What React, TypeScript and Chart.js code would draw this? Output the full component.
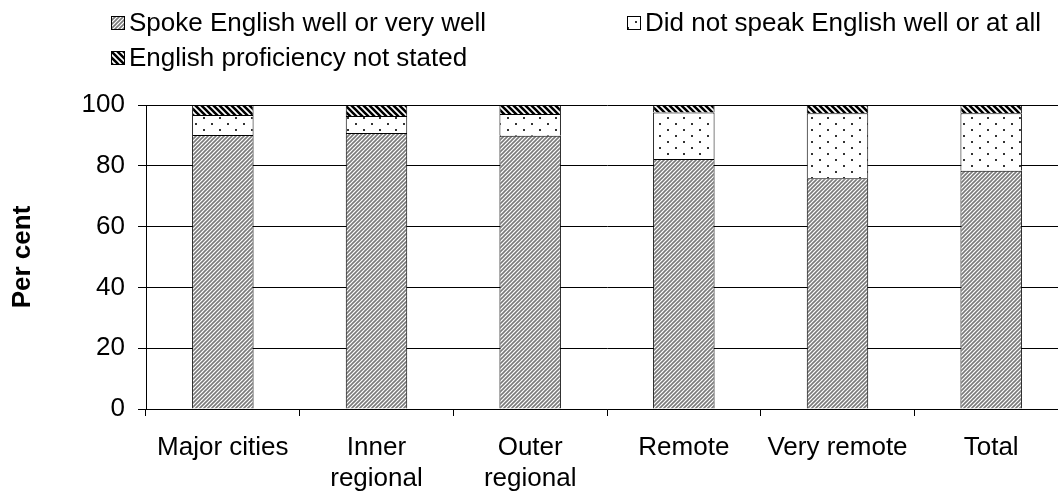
import React, { useEffect, useRef } from "react";
import { Chart, registerables } from "chart.js";

Chart.register(...registerables);

const categories: string[][] = [
  ["Major cities"],
  ["Inner", "regional"],
  ["Outer", "regional"],
  ["Remote"],
  ["Very remote"],
  ["Total"],
];
const seriesNames = [
  "Spoke English well or very well",
  "Did not speak English well or at all",
  "English proficiency not stated",
];
const spokeWell = [90.1, 90.8, 89.9, 82.2, 75.9, 78.4];
const notWell = [6.6, 5.6, 7.1, 15.3, 21.4, 18.9];
const notStated = [3.3, 3.6, 3.0, 2.5, 2.7, 2.7];
const yTicks = [0, 20, 40, 60, 80, 100];

const FONT = "'Liberation Sans', Arial, sans-serif";
const FS = 26;

function stripePattern(size: number, color: string, width: number, dir: "f" | "b") {
  const c = document.createElement("canvas");
  c.width = size;
  c.height = size;
  const g = c.getContext("2d")!;
  g.fillStyle = "#fff";
  g.fillRect(0, 0, size, size);
  g.strokeStyle = color;
  g.lineWidth = width;
  g.beginPath();
  if (dir === "f") {
    g.moveTo(0, size); g.lineTo(size, 0);
    g.moveTo(-size, size); g.lineTo(size, -size);
    g.moveTo(0, 2 * size); g.lineTo(2 * size, 0);
  } else {
    g.moveTo(0, 0); g.lineTo(size, size);
    g.moveTo(-size, 0); g.lineTo(size, 2 * size);
    g.moveTo(0, -size); g.lineTo(2 * size, size);
  }
  g.stroke();
  return g.createPattern(c, "repeat")!;
}

function dotPattern() {
  const c = document.createElement("canvas");
  c.width = 16;
  c.height = 12;
  const g = c.getContext("2d")!;
  g.fillStyle = "#fff";
  g.fillRect(0, 0, 16, 12);
  g.fillStyle = "#333";
  g.fillRect(3, 3, 2, 2);
  g.fillRect(11, 9, 2, 2);
  return g.createPattern(c, "repeat")!;
}

export default function App() {
  const ref = useRef<HTMLCanvasElement | null>(null);
  useEffect(() => {
    if (!ref.current) return;
    const pSpoke = stripePattern(4, "#7a7a7a", 1.6, "f");
    const pNot = dotPattern();
    const pStated = stripePattern(6, "#000", 2.6, "b");
    const fills = [pSpoke, pNot, pStated];

    const legendPlugin = {
      id: "customLegend",
      afterDraw(chart: any) {
        const ctx = chart.ctx as CanvasRenderingContext2D;
        const items = [
          { x: 111, y: 23, i: 0 },
          { x: 627, y: 23, i: 1 },
          { x: 111, y: 58, i: 2 },
        ];
        ctx.save();
        ctx.font = `${FS}px ${FONT}`;
        ctx.textBaseline = "middle";
        ctx.textAlign = "left";
        for (const it of items) {
          ctx.fillStyle = fills[it.i];
          ctx.fillRect(it.x, it.y - 7, 14, 14);
          ctx.strokeStyle = "#000";
          ctx.lineWidth = 1;
          ctx.strokeRect(it.x + 0.5, it.y - 6.5, 13, 13);
          ctx.fillStyle = "#000";
          ctx.fillText(seriesNames[it.i], it.x + 18, it.y + 1);
        }
        ctx.restore();
      },
    };

    const chart = new Chart(ref.current, {
      type: "bar",
      data: {
        labels: categories,
        datasets: [
          { label: seriesNames[0], data: spokeWell, backgroundColor: pSpoke, borderColor: "#000", borderWidth: 1 },
          { label: seriesNames[1], data: notWell, backgroundColor: pNot, borderColor: "#000", borderWidth: 1 },
          { label: seriesNames[2], data: notStated, backgroundColor: pStated, borderColor: "#000", borderWidth: 1 },
        ],
      },
      options: {
        animation: false,
        responsive: false,
        maintainAspectRatio: false,
        layout: { padding: { top: 105, right: 7, left: 0, bottom: 0 } },
        datasets: { bar: { categoryPercentage: 1, barPercentage: 0.4 } },
        plugins: { legend: { display: false }, tooltip: { enabled: false } },
        scales: {
          x: {
            stacked: true,
            offset: true,
            afterFit(scale: any) {
              scale.height = 84;
            },
            grid: { offset: true, drawOnChartArea: false, tickLength: 7, color: "#000" },
            border: { color: "#000" },
            ticks: { color: "#000", font: { family: FONT, size: FS, lineHeight: 1.2 }, padding: 16, maxRotation: 0, autoSkip: false },
          },
          y: {
            stacked: true,
            min: 0,
            max: 100,
            afterFit(scale: any) {
              scale.width = 146;
            },
            afterBuildTicks(scale: any) {
              scale.ticks = yTicks.map((v) => ({ value: v }));
            },
            grid: { color: "#000", tickLength: 8 },
            border: { color: "#000" },
            ticks: { color: "#000", font: { family: FONT, size: FS }, padding: 13 },
            title: {
              display: true,
              text: "Per cent",
              color: "#000",
              font: { family: FONT, size: FS, weight: "bold" },
              padding: { top: 7, bottom: 0 },
            },
          },
        },
      },
      plugins: [legendPlugin],
    } as any);
    return () => chart.destroy();
  }, []);

  return (
    <div style={{ position: "fixed", left: 0, top: 0, width: 1058, height: 493, overflow: "hidden", background: "#fff" }}>
      <canvas ref={ref} width={1075} height={493} style={{ width: 1075, height: 493, display: "block" }} />
    </div>
  );
}
